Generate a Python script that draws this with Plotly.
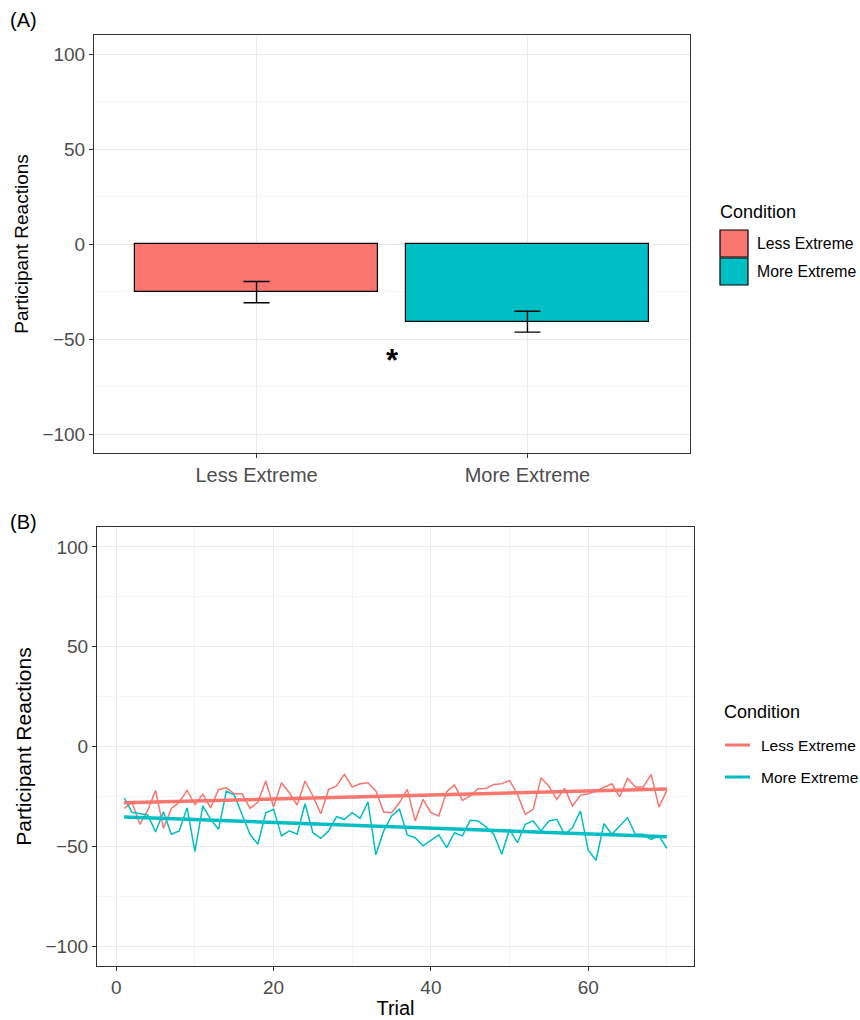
import numpy as np
import plotly.graph_objects as go

# ---------------- data ----------------
conditions = ["Less Extreme", "More Extreme"]
colors = ["#F8766D", "#00BFC4"]
bar_means = [-25.3, -40.9]
bar_se = [5.6, 5.5]

trials = list(range(1, 71))
less_extreme = [
    -31.0, -28.0, -39.0, -32.0, -22.0, -41.0, -31.0, -28.0, -22.0, -29.0,
    -24.0, -30.7, -21.5, -20.7, -23.7, -23.7, -31.0, -28.0, -17.3, -30.3,
    -18.2, -23.2, -29.3, -17.3, -24.8, -33.7, -21.5, -19.8, -14.0, -20.3,
    -18.7, -18.2, -22.3, -32.8, -33.2, -28.2, -21.5, -37.3, -26.5, -33.2,
    -34.8, -22.7, -19.3, -27.0, -24.8, -21.2, -21.0, -19.0, -18.7, -17.0,
    -24.0, -34.0, -31.5, -15.7, -19.8, -26.5, -21.0, -29.8, -24.5, -23.7,
    -22.3, -20.3, -18.7, -25.3, -16.0, -20.3, -20.3, -14.0, -30.3, -22.0,
]
more_extreme = [
    -25.7, -33.0, -33.7, -34.3, -42.8, -32.7, -44.0, -42.3, -30.7, -52.7,
    -29.8, -36.5, -41.5, -22.3, -24.3, -34.0, -44.0, -49.0, -33.2, -31.5,
    -44.8, -42.3, -44.0, -28.7, -43.2, -46.0, -42.3, -35.2, -36.5, -33.2,
    -36.0, -27.8, -54.3, -42.3, -34.8, -31.5, -44.3, -45.7, -49.8, -47.0,
    -44.3, -50.7, -43.2, -44.8, -37.0, -37.3, -40.3, -44.0, -54.0, -41.5,
    -48.2, -39.0, -37.3, -42.3, -37.3, -36.5, -44.0, -40.7, -32.3, -52.0,
    -57.0, -38.7, -44.0, -39.8, -35.7, -44.0, -44.0, -46.5, -44.8, -51.0,
]
series_b = [less_extreme, more_extreme]

W, H = 860, 1020
FONT = "Liberation Sans, Arial, Helvetica, sans-serif"
GRID = "#EBEBEB"
MINOR = "#F4F4F4"
AX = "#333333"
TICKTXT = "#4D4D4D"

fig = go.Figure()

# ---------------- panel A ----------------
xpos = [1, 2]
for i, c in enumerate(conditions):
    fig.add_trace(go.Bar(
        x=[xpos[i]], y=[bar_means[i]], width=0.9,
        marker=dict(color=colors[i], line=dict(color="black", width=1.2)),
        error_y=dict(type="data", array=[bar_se[i]], visible=True,
                     color="black", thickness=1.4, width=13),
        name=c, showlegend=False, xaxis="x", yaxis="y",
    ))

# significance marker between bars
fig.add_annotation(x=sum(xpos) / 2, y=bar_means[1] - 20.5, xref="x", yref="y",
                   text="<b>*</b>", showarrow=False,
                   font=dict(size=31, color="black", family=FONT),
                   yanchor="middle")

# ---------------- panel B ----------------
t = np.array(trials, dtype=float)
for i, c in enumerate(conditions):
    fig.add_trace(go.Scatter(
        x=trials, y=series_b[i], mode="lines",
        line=dict(color=colors[i], width=1.5),
        name=c, showlegend=False, xaxis="x2", yaxis="y2",
    ))
for i, c in enumerate(conditions):
    slope, icpt = np.polyfit(t, np.array(series_b[i]), 1)
    xs = [t.min(), t.max()]
    fig.add_trace(go.Scatter(
        x=xs, y=[icpt + slope * v for v in xs], mode="lines",
        line=dict(color=colors[i], width=3.5),
        name=c, showlegend=False, xaxis="x2", yaxis="y2",
    ))

def px_x(p):
    return p / W

def px_y(p):
    return 1 - p / H

common_axis = dict(
    showline=True, linecolor=AX, linewidth=1, mirror=True,
    ticks="outside", ticklen=4, tickcolor=AX, tickwidth=1,
    gridcolor=GRID, gridwidth=1.2, zeroline=False,
)

fig.update_layout(
    width=W, height=H,
    margin=dict(l=0, r=0, t=0, b=0),
    paper_bgcolor="white", plot_bgcolor="white",
    font=dict(family=FONT, color="black"),
    showlegend=False,
    bargap=0,
    xaxis=dict(
        domain=[px_x(94), px_x(690)], anchor="y",
        range=[0.4, 2.6], tickvals=xpos, ticktext=conditions,
        tickfont=dict(size=20, color=TICKTXT),
        **common_axis,
    ),
    yaxis=dict(
        domain=[px_y(453), px_y(35)], anchor="x",
        range=[-110, 110], tickvals=[-100, -50, 0, 50, 100],
        tickfont=dict(size=19, color=TICKTXT),
        title=dict(text="Participant Reactions", font=dict(size=19, color="black"), standoff=8),
        minor=dict(tickvals=[-75, -25, 25, 75], showgrid=True, gridcolor=MINOR, gridwidth=0.8, ticks=""),
        **common_axis,
    ),
    xaxis2=dict(
        domain=[px_x(97), px_x(694)], anchor="y2",
        range=[-2.45, 73.45], tickvals=[0, 20, 40, 60],
        tickfont=dict(size=19, color=TICKTXT),
        title=dict(text="Trial", font=dict(size=20, color="black"), standoff=4),
        minor=dict(tickvals=[10, 30, 50, 70], showgrid=True, gridcolor=MINOR, gridwidth=0.8, ticks=""),
        **common_axis,
    ),
    yaxis2=dict(
        domain=[px_y(966), px_y(527)], anchor="x2",
        range=[-110, 110], tickvals=[-100, -50, 0, 50, 100],
        tickfont=dict(size=19, color=TICKTXT),
        title=dict(text="Participant Reactions", font=dict(size=21, color="black"), standoff=8),
        minor=dict(tickvals=[-75, -25, 25, 75], showgrid=True, gridcolor=MINOR, gridwidth=0.8, ticks=""),
        **common_axis,
    ),
)

# panel tags
fig.add_annotation(x=px_x(8), y=px_y(20), xref="paper", yref="paper", text="(A)",
                   showarrow=False, xanchor="left", yanchor="middle",
                   font=dict(size=20, color="black", family=FONT))
fig.add_annotation(x=px_x(8), y=px_y(522), xref="paper", yref="paper", text="(B)",
                   showarrow=False, xanchor="left", yanchor="middle",
                   font=dict(size=20, color="black", family=FONT))

# legend A (fill keys)
fig.add_annotation(x=px_x(718), y=px_y(212), xref="paper", yref="paper", text="Condition",
                   showarrow=False, xanchor="left", yanchor="middle",
                   font=dict(size=18, color="black", family=FONT))
for i, c in enumerate(conditions):
    top = 230 + i * 28
    fig.add_shape(type="rect", xref="paper", yref="paper",
                  x0=px_x(720), x1=px_x(748), y0=px_y(top + 27), y1=px_y(top),
                  fillcolor=colors[i], line=dict(color="black", width=1.2))
    fig.add_annotation(x=px_x(755), y=px_y(top + 13.5), xref="paper", yref="paper", text=c,
                       showarrow=False, xanchor="left", yanchor="middle",
                       font=dict(size=15.8, color="black", family=FONT))

# legend B (line keys)
fig.add_annotation(x=px_x(722), y=px_y(712), xref="paper", yref="paper", text="Condition",
                   showarrow=False, xanchor="left", yanchor="middle",
                   font=dict(size=18, color="black", family=FONT))
for i, c in enumerate(conditions):
    yc = 745 + i * 32
    fig.add_shape(type="line", xref="paper", yref="paper",
                  x0=px_x(725), x1=px_x(750), y0=px_y(yc), y1=px_y(yc),
                  line=dict(color=colors[i], width=3))
    fig.add_annotation(x=px_x(759), y=px_y(yc), xref="paper", yref="paper", text=c,
                       showarrow=False, xanchor="left", yanchor="middle",
                       font=dict(size=15.5, color="black", family=FONT))

fig.write_html("out.html")
